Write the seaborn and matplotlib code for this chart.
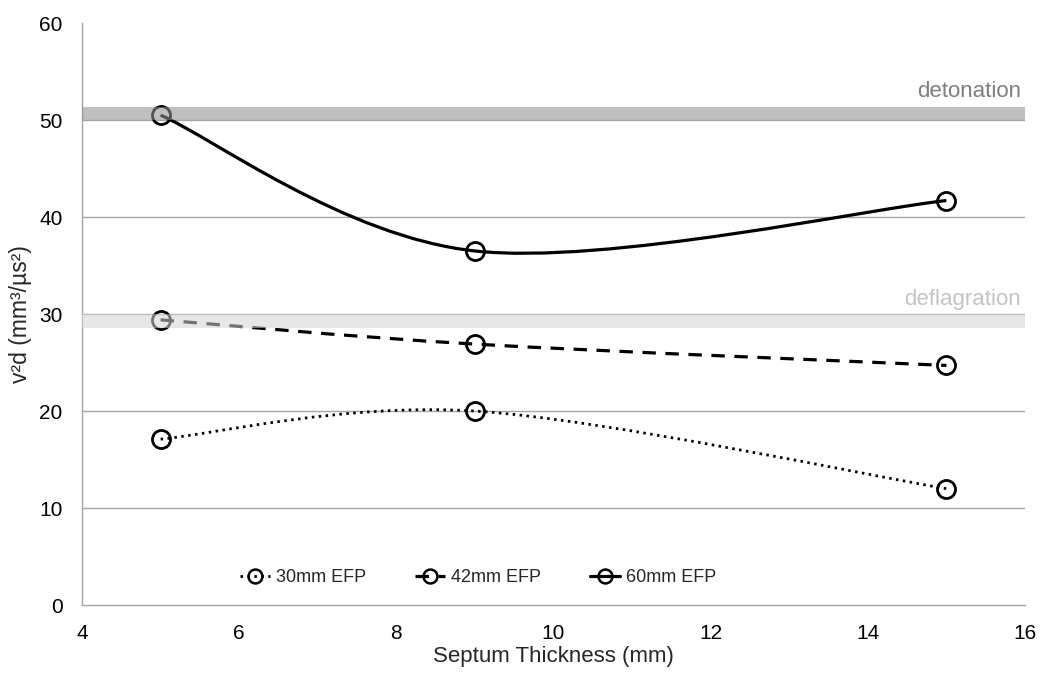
import numpy as np
import matplotlib
matplotlib.use('agg')
import matplotlib.pyplot as plt
from matplotlib.path import Path
from matplotlib.patches import PathPatch
from matplotlib.lines import Line2D
import seaborn as sns

# data
thickness = [5, 9, 15]
v2d_30mm = [17.1, 20.0, 12.0]
v2d_42mm = [29.4, 26.9, 24.7]
v2d_60mm = [50.5, 36.5, 41.7]
series_labels = ['30mm EFP', '42mm EFP', '60mm EFP']

detonation_band = (50.0, 51.3)
deflagration_band = (28.6, 30.0)


def smooth_path(xs, ys):
    # excel-like smoothed line: catmull-rom segments as cubic beziers
    pts = np.column_stack([xs, ys]).astype(float)
    ext = np.vstack([pts[0], pts, pts[-1]])
    verts = [pts[0]]
    codes = [Path.MOVETO]
    for i in range(len(pts) - 1):
        p0, p1, p2, p3 = ext[i], ext[i + 1], ext[i + 2], ext[i + 3]
        c1 = p1 + (p2 - p0) / 6.0
        c2 = p2 - (p3 - p1) / 6.0
        verts += [c1, c2, p2]
        codes += [Path.CURVE4] * 3
    return Path(verts, codes)


sns.set_theme(style='white')
plt.rcParams['font.family'] = ['Liberation Sans', 'DejaVu Sans']

fig = plt.figure(figsize=(10.41, 6.73), dpi=100)
ax = fig.add_axes([0.0788, 0.101, 0.9058, 0.8648])

styles = [
    dict(ls=(0, (0.9, 1.6)), lw=2.0),
    dict(ls=(0, (4.2, 3.0)), lw=2.3),
    dict(ls='-', lw=2.3),
]
handles = []
for ys, lab, st in zip([v2d_30mm, v2d_42mm, v2d_60mm], series_labels, styles):
    patch = PathPatch(smooth_path(thickness, ys), facecolor='none', edgecolor='black',
                      linestyle=st['ls'], lw=st['lw'], zorder=2, capstyle='butt')
    ax.add_patch(patch)
    sns.lineplot(x=thickness, y=ys, ax=ax, linestyle='none', marker='o', markersize=13,
                 markerfacecolor='none', markeredgecolor='black', markeredgewidth=2.0,
                 zorder=2.5)
    handles.append(Line2D([], [], color='black', ls=st['ls'], lw=st['lw'], marker='o',
                          markersize=10, markerfacecolor='none', markeredgecolor='black',
                          markeredgewidth=1.8, label=lab))

# grey bands drawn over the curves
ax.axhspan(*detonation_band, color=(0.57, 0.57, 0.57), alpha=0.58, lw=0, zorder=3)
ax.axhspan(*deflagration_band, color=(0.83, 0.83, 0.83), alpha=0.55, lw=0, zorder=3)
ax.text(15.95, 51.9, 'detonation', ha='right', va='bottom', fontsize=16, color='#7f7f7f')
ax.text(15.95, 30.4, 'deflagration', ha='right', va='bottom', fontsize=16, color='#c4c4c4')

for yv in [10, 20, 30, 40, 50]:
    ax.axhline(yv, color='#a6a6a6', lw=1.0, zorder=1)

ax.set_xlim(4, 16)
ax.set_ylim(0, 60)
ax.set_xticks(range(4, 17, 2))
ax.set_yticks(range(0, 61, 10))
ax.tick_params(axis='both', labelsize=15, colors='black', length=0)
ax.tick_params(axis='x', pad=14)
ax.tick_params(axis='y', pad=14)
ax.set_xlabel('Septum Thickness (mm)', fontsize=16, labelpad=2)
ax.set_ylabel('v²d (mm³/µs²)', fontsize=16.5, labelpad=5)

for side in ['top', 'right']:
    ax.spines[side].set_visible(False)
for side in ['left', 'bottom']:
    ax.spines[side].set_color('#a6a6a6')
    ax.spines[side].set_linewidth(1.0)

ax.legend(handles=handles, loc='lower left', bbox_to_anchor=(0.15, 0.005), ncol=3,
          frameon=False, fontsize=13, handlelength=1.7, handletextpad=0.3,
          columnspacing=2.7)

fig.savefig('out.png', dpi=100)
